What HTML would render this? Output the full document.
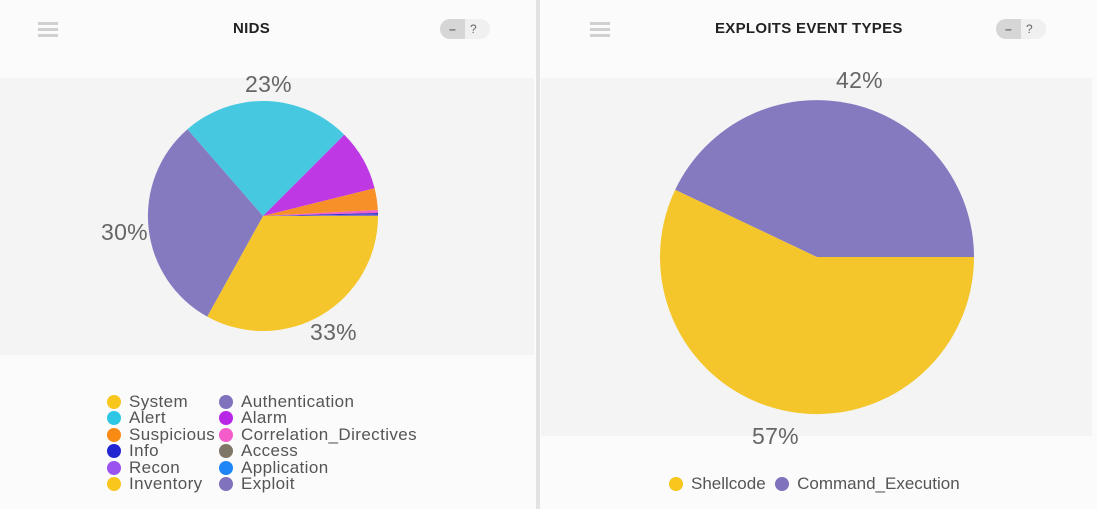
<!DOCTYPE html>
<html><head><style>
body{margin:0;width:1097px;height:509px;background:#fbfbfb;font-family:"Liberation Sans",sans-serif;overflow:hidden;position:relative}
.t{position:absolute;font-weight:bold;font-size:15px;color:#222;letter-spacing:0.3px}
.ham{position:absolute;width:20px;height:3px;background:#d0d0d0;box-shadow:0 6px 0 #d0d0d0,0 12px 0 #d0d0d0}
.tg{position:absolute;width:50px;height:20px;border-radius:10px;background:#f0f0f0;overflow:hidden;font-size:12px;color:#666}
.tg b{position:absolute;left:0;top:0;width:25px;height:20px;background:#d6d6d6;text-align:center;line-height:20px;font-weight:bold}
.tg i{position:absolute;left:30px;top:0;line-height:20px;font-style:normal}
.lab{position:absolute;font-size:23px;color:#666;letter-spacing:0.3px}
.lg{position:absolute;font-size:17px;color:#555;line-height:16.4px;letter-spacing:0.4px}
.lg div{white-space:nowrap}
.d{display:inline-block;width:14px;height:14px;border-radius:50%;vertical-align:-2px;margin-right:8px}
</style></head><body>
<div style="position:absolute;left:0;top:78px;width:534px;height:277px;background:#f4f4f4"></div>
<div style="position:absolute;left:541px;top:78px;width:551px;height:358px;background:#f4f4f4"></div>
<div style="position:absolute;left:536px;top:0;width:4px;height:509px;background:#e2e2e2"></div>
<div class="ham" style="left:38px;top:22px"></div>
<div class="ham" style="left:590px;top:22px"></div>
<div class="t" style="left:233px;top:20px">NIDS</div>
<div class="t" style="left:715px;top:20px">EXPLOITS EVENT TYPES</div>
<div class="tg" style="left:440px;top:19px"><b>–</b><i>?</i></div>
<div class="tg" style="left:996px;top:19px"><b>–</b><i>?</i></div>
<svg style="position:absolute;left:0;top:0" width="1097" height="509">
<path d="M263 216 L378 216 A115 115 0 0 1 207.2 316.6Z" fill="#f4c62b"/>
<path d="M263 216 L207.2 316.6 A115 115 0 0 1 187.5 129.2Z" fill="#8579c0"/>
<path d="M263 216 L187.5 129.2 A115 115 0 0 1 344.3 134.7Z" fill="#46c8e0"/>
<path d="M263 216 L344.3 134.7 A115 115 0 0 1 374.6 188.2Z" fill="#be38e3"/>
<path d="M263 216 L374.6 188.2 A115 115 0 0 1 377.8 210Z" fill="#f79028"/>
<path d="M263 216 L377.8 210 A115 115 0 0 1 377.96 213Z" fill="#f261c8"/>
<path d="M263 216 L377.96 213 A115 115 0 0 1 378 214.5Z" fill="#2a2fd0"/>
<path d="M263 216 L378 214.5 A115 115 0 0 1 378 216Z" fill="#8579c0"/>
<path d="M817 257 L974 257 A157 157 0 1 1 675.2 189.7Z" fill="#f4c62b"/>
<path d="M817 257 L675.2 189.7 A157 157 0 0 1 974 257Z" fill="#8579c0"/>
</svg>
<div class="lab" style="left:245px;top:71px">23%</div>
<div class="lab" style="left:101px;top:219px">30%</div>
<div class="lab" style="left:310px;top:319px">33%</div>
<div class="lab" style="left:836px;top:67px">42%</div>
<div class="lab" style="left:752px;top:423px">57%</div>
<div class="lg" style="left:107px;top:394px">
<div><span class="d" style="background:#f8c61c"></span>System</div>
<div><span class="d" style="background:#2ec8e6"></span>Alert</div>
<div><span class="d" style="background:#f98a14"></span>Suspicious</div>
<div><span class="d" style="background:#2226d0"></span>Info</div>
<div><span class="d" style="background:#9a52f0"></span>Recon</div>
<div><span class="d" style="background:#f8c61c"></span>Inventory</div>
</div>
<div class="lg" style="left:219px;top:394px">
<div><span class="d" style="background:#8072bd"></span>Authentication</div>
<div><span class="d" style="background:#b827e6"></span>Alarm</div>
<div><span class="d" style="background:#f55ccb"></span>Correlation_Directives</div>
<div><span class="d" style="background:#7e7667"></span>Access</div>
<div><span class="d" style="background:#1e86f6"></span>Application</div>
<div><span class="d" style="background:#8072bd"></span>Exploit</div>
</div>
<div class="lg" style="left:669px;top:476px;letter-spacing:0">
<span class="d" style="background:#f8c61c"></span>Shellcode&nbsp;&nbsp;<span class="d" style="background:#8072bd"></span>Command_Execution
</div>
</body></html>
